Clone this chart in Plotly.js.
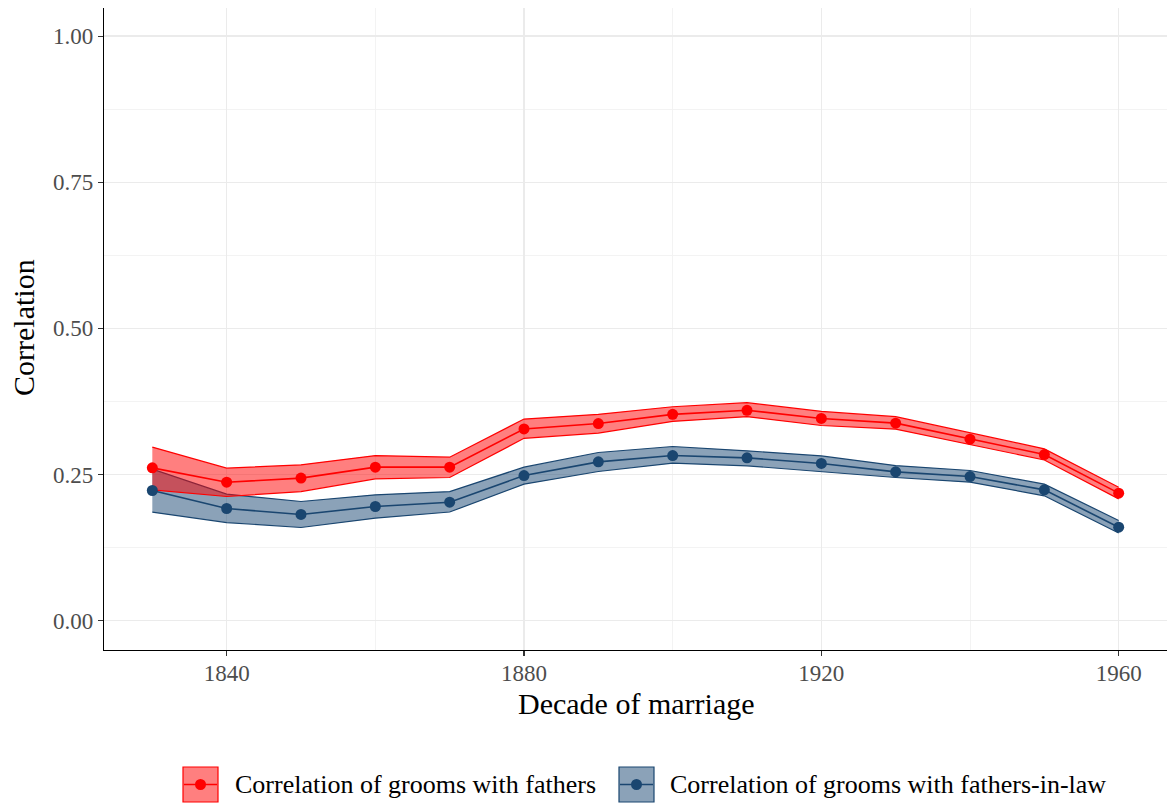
<!DOCTYPE html>
<html>
<head>
<meta charset="utf-8">
<script src="https://cdn.plot.ly/plotly-3.0.1.min.js"></script>
<style>html,body{margin:0;padding:0;background:#fff;}#chart{width:1167px;height:803px;}</style>
</head>
<body>
<div id="chart"></div>
<script>
var decades = [1830, 1840, 1850, 1860, 1870, 1880, 1890, 1900, 1910, 1920, 1930, 1940, 1950, 1960];
var fathers   = [0.2615, 0.237, 0.244, 0.2627, 0.2627, 0.328, 0.3373, 0.353, 0.360, 0.346, 0.338, 0.3106, 0.2843, 0.2183];
var fathersLo = [0.224, 0.2125, 0.221, 0.2427, 0.245, 0.312, 0.321, 0.341, 0.349, 0.334, 0.3277, 0.301, 0.275, 0.2085];
var fathersHi = [0.297, 0.261, 0.2667, 0.2826, 0.2798, 0.345, 0.353, 0.366, 0.373, 0.358, 0.349, 0.321, 0.294, 0.2285];
var inlaw   = [0.2228, 0.192, 0.1818, 0.1954, 0.2028, 0.2484, 0.2718, 0.2826, 0.2786, 0.269, 0.2547, 0.2467, 0.2239, 0.160];
var inlawLo = [0.1858, 0.168, 0.1595, 0.1755, 0.186, 0.2336, 0.2553, 0.2695, 0.265, 0.2553, 0.245, 0.237, 0.2137, 0.150];
var inlawHi = [0.2593, 0.2165, 0.204, 0.2154, 0.221, 0.2627, 0.2878, 0.298, 0.2906, 0.282, 0.2655, 0.257, 0.2336, 0.1715];
var xTicks = [1840, 1880, 1920, 1960];
var xMinor = [1860, 1900, 1940];
var yTicks = [0, 0.25, 0.5, 0.75, 1];
var yMinor = [0.125, 0.375, 0.625, 0.875];
var yTickText = ['0.00', '0.25', '0.50', '0.75', '1.00'];
var seriesNames = ['Correlation of grooms with fathers', 'Correlation of grooms with fathers-in-law'];

var RED = '#ff0000', RED_FILL = 'rgba(255,0,0,0.5)';
var BLUE = '#1a4670', BLUE_FILL = 'rgba(24,69,113,0.5)';
var FONT = 'Liberation Serif, DejaVu Serif, serif';

function band(lo, hi, col, fill) {
  return [
    {x: decades, y: lo, mode: 'lines', line: {color: col, width: 1.2}, showlegend: false, hoverinfo: 'skip'},
    {x: decades, y: hi, mode: 'lines', line: {color: col, width: 1.2}, fill: 'tonexty', fillcolor: fill, showlegend: false, hoverinfo: 'skip'}
  ];
}
function mid(y, col, name) {
  return {x: decades, y: y, name: name, mode: 'lines+markers', line: {color: col, width: 1.6},
          marker: {color: col, size: 11}, showlegend: false};
}

var data = [].concat(
  band(inlawLo, inlawHi, BLUE, BLUE_FILL),
  band(fathersLo, fathersHi, RED, RED_FILL),
  [mid(inlaw, BLUE, seriesNames[1]), mid(fathers, RED, seriesNames[0])]
);

// Legend (custom keys in paper coordinates)
var PW = 1063, PH = 642;
function px(x) { return (x - 104) / PW; }
function py(y) { return (650 - y) / PH; }
var shapes = [];
var annotations = [];
function legendKey(x0, col, fill, label, tx) {
  shapes.push({type: 'rect', xref: 'paper', yref: 'paper', x0: px(x0), x1: px(x0 + 35), y0: py(802), y1: py(767),
               fillcolor: fill, line: {color: col, width: 1.2}});
  shapes.push({type: 'line', xref: 'paper', yref: 'paper', x0: px(x0 + 1), x1: px(x0 + 34), y0: py(784.5), y1: py(784.5),
               line: {color: col, width: 1.6}});
  shapes.push({type: 'circle', xref: 'paper', yref: 'paper', x0: px(x0 + 12), x1: px(x0 + 23), y0: py(790), y1: py(779),
               fillcolor: col, line: {color: col, width: 0}});
  annotations.push({xref: 'paper', yref: 'paper', x: px(tx), y: py(784.5), xanchor: 'left', yanchor: 'middle',
                    text: label, showarrow: false, font: {family: FONT, size: 26, color: '#000'}});
}
legendKey(183, RED, RED_FILL, seriesNames[0], 233);
legendKey(619, BLUE, BLUE_FILL, seriesNames[1], 668);

annotations.push({xref: 'paper', yref: 'paper', x: px(636), y: py(704), xanchor: 'center', yanchor: 'middle',
                  text: 'Decade of marriage', showarrow: false, font: {family: FONT, size: 30, color: '#000'}});
annotations.push({xref: 'paper', yref: 'paper', x: px(23), y: py(328), xanchor: 'center', yanchor: 'middle', textangle: -90,
                  text: 'Correlation', showarrow: false, font: {family: FONT, size: 30, color: '#000'}});

var layout = {
  width: 1167, height: 803,
  margin: {l: 104, r: 0, t: 8, b: 153},
  paper_bgcolor: '#fff', plot_bgcolor: '#fff',
  font: {family: FONT, color: '#4d4d4d'},
  showlegend: false,
  xaxis: {
    range: [1823.5, 1966.5], tickvals: xTicks, ticktext: xTicks.map(String),
    showgrid: true, gridcolor: '#ebebeb', gridwidth: 1.2,
    minor: {tickvals: xMinor, showgrid: true, gridcolor: '#f2f2f2', gridwidth: 0.9, ticks: ''},
    zeroline: false, showline: true, linecolor: '#000', linewidth: 1.2,
    ticks: 'outside', ticklen: 5, tickcolor: '#333', tickwidth: 1.1, ticklabelstandoff: -3,
    tickfont: {family: FONT, size: 23, color: '#4d4d4d'}, automargin: false
  },
  yaxis: {
    range: [-0.05, 1.048], tickvals: yTicks, ticktext: yTickText,
    showgrid: true, gridcolor: '#ebebeb', gridwidth: 1.2,
    minor: {tickvals: yMinor, showgrid: true, gridcolor: '#f2f2f2', gridwidth: 0.9, ticks: ''},
    zeroline: false, showline: true, linecolor: '#000', linewidth: 1.2,
    ticks: 'outside', ticklen: 5, tickcolor: '#333', tickwidth: 1.1,
    tickfont: {family: FONT, size: 23, color: '#4d4d4d'}, automargin: false
  },
  shapes: shapes,
  annotations: annotations
};

Plotly.newPlot('chart', data, layout, {displayModeBar: false, staticPlot: true});
</script>
</body>
</html>
